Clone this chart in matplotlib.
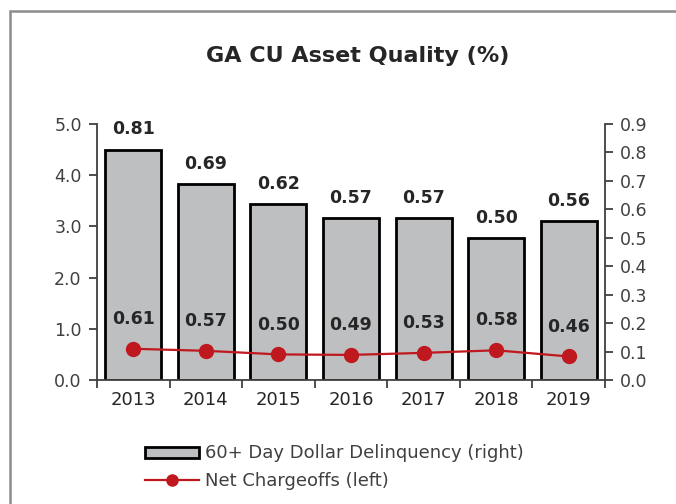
import matplotlib
matplotlib.use("Agg")
import matplotlib.pyplot as plt
from matplotlib.patches import Rectangle, Patch
from matplotlib.lines import Line2D
import numpy as np

years = ["2013", "2014", "2015", "2016", "2017", "2018", "2019"]
delinquency = [0.81, 0.69, 0.62, 0.57, 0.57, 0.50, 0.56]   # right axis
chargeoffs = [0.61, 0.57, 0.50, 0.49, 0.53, 0.58, 0.46]    # left axis

plt.rcParams['font.family'] = ['DejaVu Sans']
txt = '#262626'
axc = '#404040'
red = '#C0181F'

fig = plt.figure(figsize=(6.76, 5.04), dpi=100)
ax = fig.add_axes([97/676, 1-380/504, (605-97)/676, (380-124)/504])
ax2 = ax.twinx()

x = np.arange(len(years))

# bars on the right axis
ax2.bar(x, delinquency, width=0.77, color='#BEBFC1', edgecolor='black', linewidth=2, zorder=1)
for xi, v in zip(x, delinquency):
    ax2.annotate(f"{v:.2f}", (xi, v), xytext=(0, 8), textcoords='offset points',
                 ha='center', va='bottom', fontsize=12.5, fontweight='bold', color=txt)
ax2.set_ylim(0, 0.9)
ax2.set_yticks(np.arange(0, 0.91, 0.1))
ax2.set_yticklabels([f"{t:.1f}" for t in np.arange(0, 0.91, 0.1)])

# line on the left axis, drawn on top of the bars
ax.set_zorder(ax2.get_zorder() + 1)
ax.patch.set_visible(False)
ax.plot(x, chargeoffs, color=red, lw=1.6, marker='o', markersize=10, zorder=3)
for xi, v in zip(x, chargeoffs):
    ax.annotate(f"{v:.2f}", (xi, v), xytext=(0, 15), textcoords='offset points',
                ha='center', va='bottom', fontsize=12.5, fontweight='bold', color=txt)
ax.set_ylim(0, 5.0)
ax.set_yticks(np.arange(0, 5.01, 1.0))
ax.set_yticklabels([f"{t:.1f}" for t in np.arange(0, 5.01, 1.0)])
ax.set_xlim(-0.5, len(years) - 0.5)
ax.set_xticks(x)
ax.set_xticklabels(years)
ax.set_xticks(np.arange(-0.5, len(years)), minor=True)

for a in (ax, ax2):
    a.spines['top'].set_visible(False)
    for s in ('left', 'right', 'bottom'):
        a.spines[s].set_color(axc)
        a.spines[s].set_linewidth(1.3)
    a.tick_params(axis='y', direction='out', length=6, width=1.3, color=axc,
                  labelsize=12.5, labelcolor=axc, pad=5)
ax.tick_params(axis='x', which='major', length=0, labelsize=13, labelcolor=txt, pad=8)
ax.tick_params(axis='x', which='minor', direction='out', length=6, width=1.3, color=axc)
ax2.spines['left'].set_visible(False)
ax2.spines['bottom'].set_visible(False)
ax.spines['right'].set_visible(False)

fig.text(358/676, 1-56/504, "GA CU Asset Quality (%)", ha='center', va='center',
         fontsize=16, fontweight='bold', color=txt)

handles = [Patch(facecolor='#BEBFC1', edgecolor='black', linewidth=2),
           Line2D([0], [0], color=red, lw=1.6, marker='o', markersize=8)]
fig.legend(handles, ["60+ Day Dollar Delinquency (right)", "Net Chargeoffs (left)"],
           loc='center left', bbox_to_anchor=(145/676, 1-467/504), frameon=False,
           fontsize=13, handlelength=3.0, handleheight=0.55, handletextpad=0.3,
           labelspacing=0.5, borderpad=0, borderaxespad=0, labelcolor=axc)

fig.patches.append(Rectangle((10/676, -0.05), 1.1, 1.05 - 11/504, transform=fig.transFigure,
                             fill=False, edgecolor='#8C8C8C', linewidth=1.8, clip_on=False))

fig.savefig("out.png", dpi=100)
